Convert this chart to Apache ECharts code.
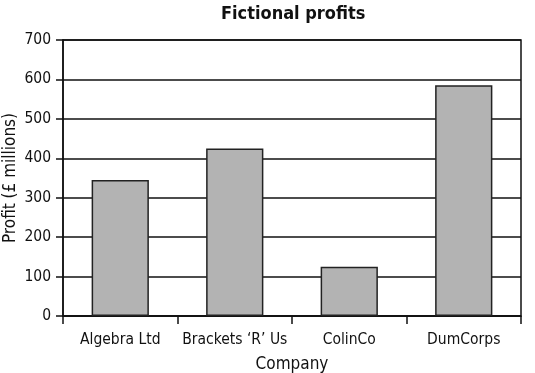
<!DOCTYPE html>
<html>
<head>
<meta charset="utf-8">
<script src="https://cdn.jsdelivr.net/npm/echarts@6/dist/echarts.min.js"></script>
<style>html,body{margin:0;padding:0;background:#fff}#c{width:535px;height:373px}</style>
</head>
<body>
<div id="c"></div>
<script>
var categories = ["Algebra Ltd", "Brackets \u2018R\u2019 Us", "ColinCo", "DumCorps"];
var profits = [345, 425, 125, 585];
var titleText = "Fictional profits";
var xName = "Company";
var yName = "Profit (\u00a3 millions)";

var FONT = "'Liberation Sans Narrow', 'DejaVu Sans Condensed', 'Roboto Condensed', sans-serif";
var chart = echarts.init(document.getElementById('c'), null, {renderer: 'canvas'});
chart.setOption({
  animation: false,
  backgroundColor: '#fff',
  title: {
    text: titleText, left: 216, top: 0,
    textStyle: {fontFamily: FONT, fontSize: 18, fontWeight: 'bold', color: '#111'}
  },
  grid: {left: 63, right: 14, top: 40, bottom: 57, containLabel: false, outerBoundsMode: 'none',
    show: true, borderColor: '#111', borderWidth: 1.5, backgroundColor: 'transparent'},
  xAxis: {
    type: 'category', data: categories,
    name: xName, nameLocation: 'middle', nameGap: 40, nameMoveOverlap: false,
    nameTextStyle: {fontFamily: FONT, fontSize: 17, color: '#111'},
    axisLine: {lineStyle: {color: '#111', width: 1.5}},
    axisTick: {show: true, length: 8, lineStyle: {color: '#111', width: 1.5}},
    axisLabel: {interval: 0, fontFamily: FONT, fontSize: 15.5, color: '#111', margin: 16}
  },
  yAxis: {
    type: 'value', min: 0, max: 700, interval: 100,
    name: yName, nameLocation: 'middle', nameGap: 44, nameMoveOverlap: false,
    nameTextStyle: {fontFamily: FONT, fontSize: 17, color: '#111'},
    axisLine: {show: true, lineStyle: {color: '#111', width: 1.5}},
    axisTick: {show: true, length: 7, lineStyle: {color: '#111', width: 1.5}},
    axisLabel: {fontFamily: FONT, fontSize: 15.5, color: '#111', margin: 12},
    splitLine: {show: true, lineStyle: {color: '#111', width: 1.5}}
  },
  series: [{
    type: 'bar', data: profits, barWidth: '50%',
    itemStyle: {color: '#b3b3b3', borderColor: '#222', borderWidth: 1.5}
  }]
});
</script>
</body>
</html>
